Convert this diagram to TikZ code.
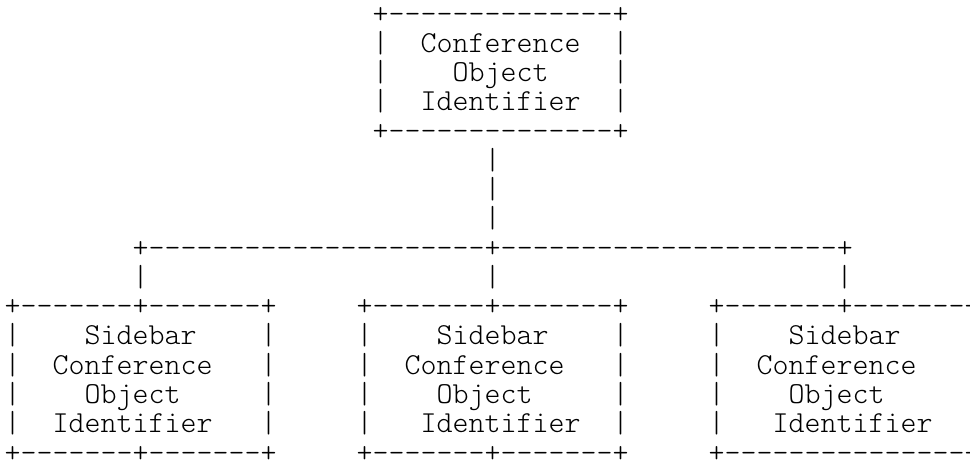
\documentclass[tikz,border=0pt]{standalone}
\usepackage{fontspec}
\setmonofont{Latin Modern Mono Light}
\begin{document}
\begin{tikzpicture}[x=16pt, y=-29.27pt]
	\tikzset{asc/.style={font=\ttfamily\fontsize{30.48pt}{29.27pt}\selectfont, anchor=base west, inner sep=0pt, outer sep=0pt}}
	\useasboundingbox (-0.294,-0.786) rectangle (60.331,14.896);
	% parent box
	\node[asc] (coi-top) at (23,0) {+--------------+};
	\node[asc] (coi-a) at (23,1) {|~~Conference~~|};
	\node[asc] (coi-b) at (23,2) {|~~~~Object~~~~|};
	\node[asc] (coi-c) at (23,3) {|~~Identifier~~|};
	\node[asc] (coi-bot) at (23,4) {+--------------+};
	\foreach \r in {5,6,7} \node[asc] (trunk-\r) at (30,\r) {|};
	\node[asc] (bus) at (8,8) {+---------------------+---------------------+};
	\foreach \c in {8,30,52} \node[asc] (drop-\c) at (\c,9) {|};
	% sidebar boxes
	\foreach \c/\n in {0/a,22/b,44/c}{
		\node[asc] (sb\n-top) at (\c,10) {+-------+-------+};
		\node[asc] (sb\n-1) at (\c,11) {|~~~~Sidebar~~~~|};
		\node[asc] (sb\n-2) at (\c,12) {|~~Conference~~~|};
		\node[asc] (sb\n-3) at (\c,13) {|~~~~Object~~~~~|};
	}
	\node[asc] (sba-4) at (0,14) {|~~Identifier~~~|};
	\node[asc] (sbb-4) at (22,14) {|~~~Identifier~~|};
	\node[asc] (sbc-4) at (44,14) {|~~~Identifier~~|};
	\node[asc] (sba-bot) at (0,15) {+-------+-------+};
	\node[asc] (sbb-bot) at (22,15) {+-------+-------+};
	\node[asc] (sbc-bot) at (44,15) {+---------------+};
\end{tikzpicture}
\end{document}
